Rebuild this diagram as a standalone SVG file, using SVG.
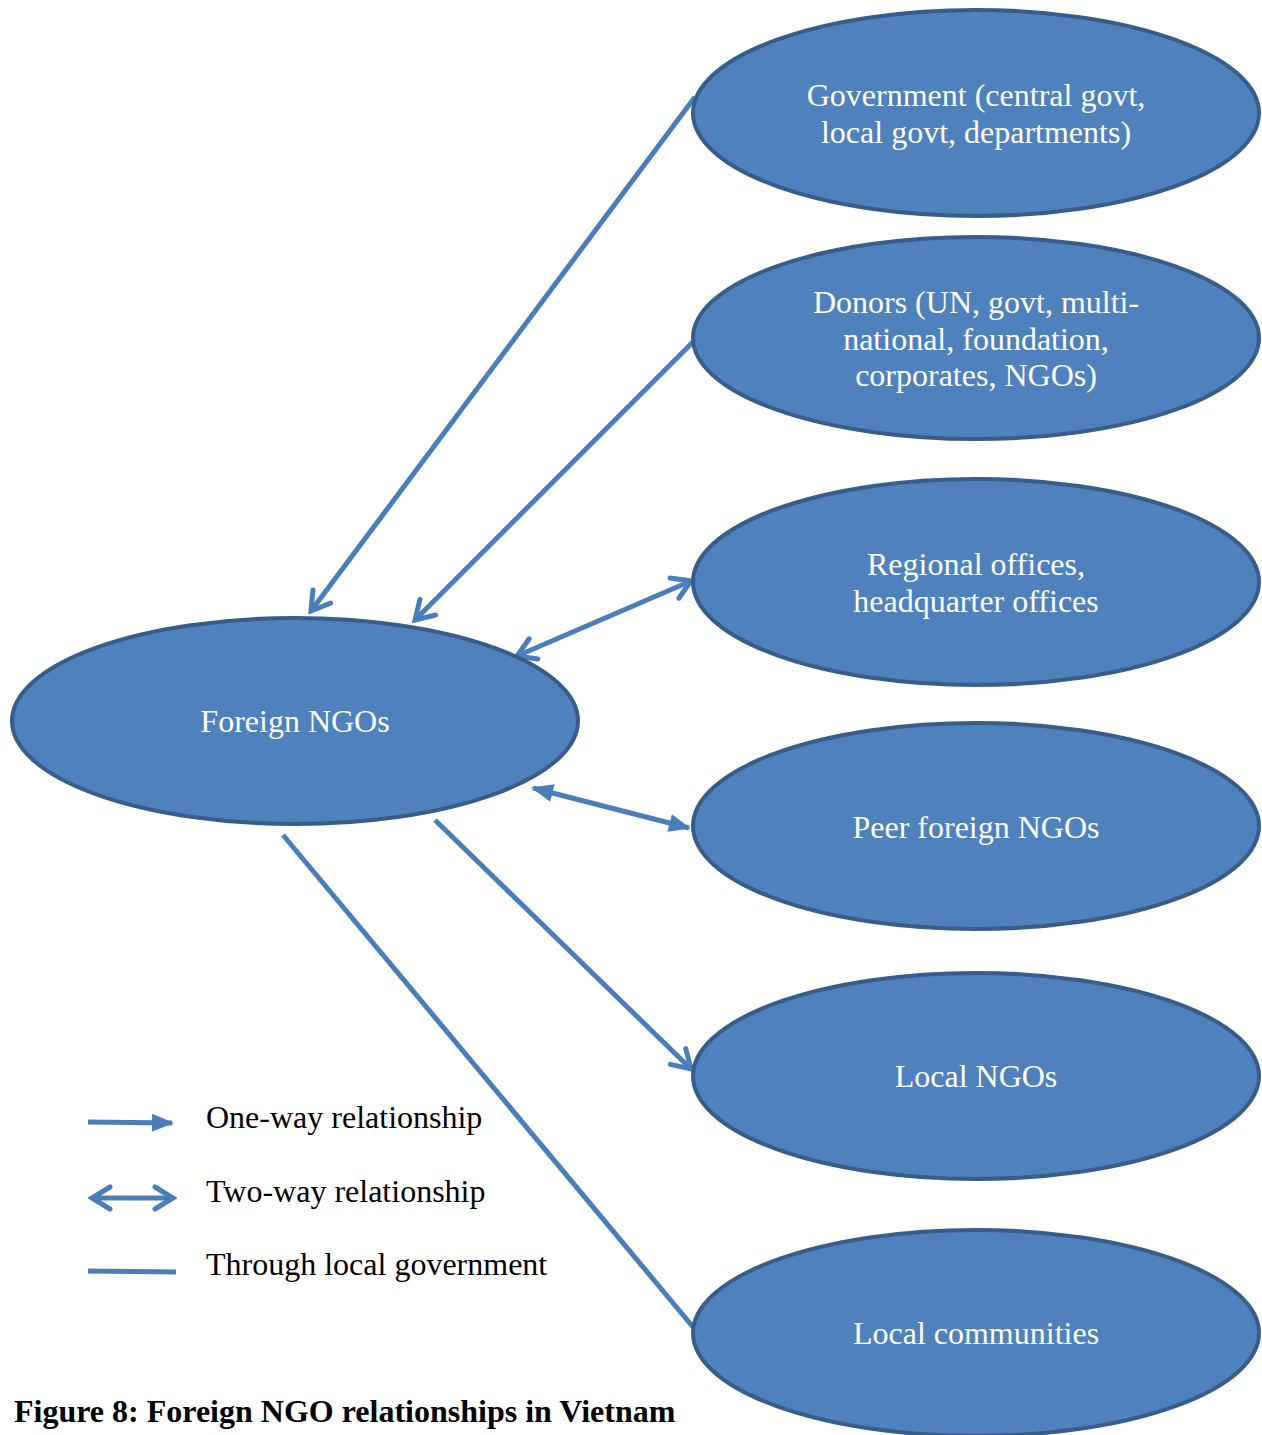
<svg xmlns="http://www.w3.org/2000/svg" width="1262" height="1435" viewBox="0 0 1262 1435">
<style>
.node{fill:#4F81BD;stroke:#385D8A;stroke-width:4}
.nt{font-family:"Liberation Serif","Times New Roman",serif;font-size:32px;fill:#FFFFFF;text-anchor:middle}
.lt{font-family:"Liberation Serif","Times New Roman",serif;font-size:32px;fill:#000000}
.cap{font-family:"Liberation Serif","Times New Roman",serif;font-size:32px;font-weight:bold;fill:#000000}
.conn{stroke:#4A7EBB;stroke-width:5;fill:none}
</style>
<defs>
<marker id="chev" markerUnits="userSpaceOnUse" viewBox="-24 -14 28 28" refX="0" refY="0" markerWidth="28" markerHeight="28" orient="auto-start-reverse">
<path d="M-18,-11 L0,0 L-18,11" fill="none" stroke="#4A7EBB" stroke-width="5" stroke-linecap="round" stroke-linejoin="miter"/>
</marker>
<marker id="tri" markerUnits="userSpaceOnUse" viewBox="-24 -14 28 28" refX="0" refY="0" markerWidth="28" markerHeight="28" orient="auto-start-reverse">
<path d="M-20,-9 L2,0 L-20,9 Z" fill="#4A7EBB"/>
</marker>
</defs>
<rect width="1262" height="1435" fill="#FFFFFF"/>
<g id="connectors">
<line class="conn" x1="695" y1="97" x2="311" y2="611" marker-end="url(#chev)"/>
<line class="conn" x1="693" y1="342" x2="415" y2="620" marker-end="url(#chev)"/>
<line class="conn" x1="517" y1="656" x2="691" y2="581" marker-start="url(#chev)" marker-end="url(#chev)"/>
<line class="conn" x1="533" y1="788" x2="689" y2="828" marker-start="url(#tri)" marker-end="url(#tri)"/>
<line class="conn" x1="435" y1="820" x2="691" y2="1069" marker-end="url(#chev)"/>
<line class="conn" x1="283" y1="835" x2="693" y2="1327"/>
</g>
<g id="node-government">
<ellipse class="node" cx="976" cy="113" rx="283" ry="103"/>
<text class="nt" x="976" y="106">Government (central govt,</text>
<text class="nt" x="976" y="143">local govt, departments)</text>
</g>
<g id="node-donors">
<ellipse class="node" cx="976" cy="338" rx="283" ry="101"/>
<text class="nt" x="976" y="313">Donors (UN, govt, multi-</text>
<text class="nt" x="976" y="350">national, foundation,</text>
<text class="nt" x="976" y="386">corporates, NGOs)</text>
</g>
<g id="node-regional">
<ellipse class="node" cx="976" cy="582" rx="283" ry="103"/>
<text class="nt" x="976" y="575">Regional offices,</text>
<text class="nt" x="976" y="612">headquarter offices</text>
</g>
<g id="node-peer">
<ellipse class="node" cx="976" cy="826" rx="283" ry="103"/>
<text class="nt" x="976" y="838">Peer foreign NGOs</text>
</g>
<g id="node-localngos">
<ellipse class="node" cx="976" cy="1076" rx="283" ry="103"/>
<text class="nt" x="976" y="1087">Local NGOs</text>
</g>
<g id="node-communities">
<ellipse class="node" cx="976" cy="1333" rx="283" ry="103"/>
<text class="nt" x="976" y="1344">Local communities</text>
</g>
<g id="node-foreign">
<ellipse class="node" cx="295" cy="721" rx="283" ry="103"/>
<text class="nt" x="295" y="732">Foreign NGOs</text>
</g>
<g id="legend">
<line class="conn" x1="88" y1="1122" x2="172" y2="1123" marker-end="url(#tri)"/>
<line class="conn" x1="92" y1="1198" x2="173" y2="1198" marker-start="url(#chev)" marker-end="url(#chev)"/>
<line class="conn" x1="88" y1="1271" x2="176" y2="1272"/>
<text class="lt" x="206" y="1128">One-way relationship</text>
<text class="lt" x="206" y="1202">Two-way relationship</text>
<text class="lt" x="206" y="1275">Through local government</text>
</g>
<text class="cap" x="14" y="1422">Figure 8: Foreign NGO relationships in Vietnam</text>
</svg>
